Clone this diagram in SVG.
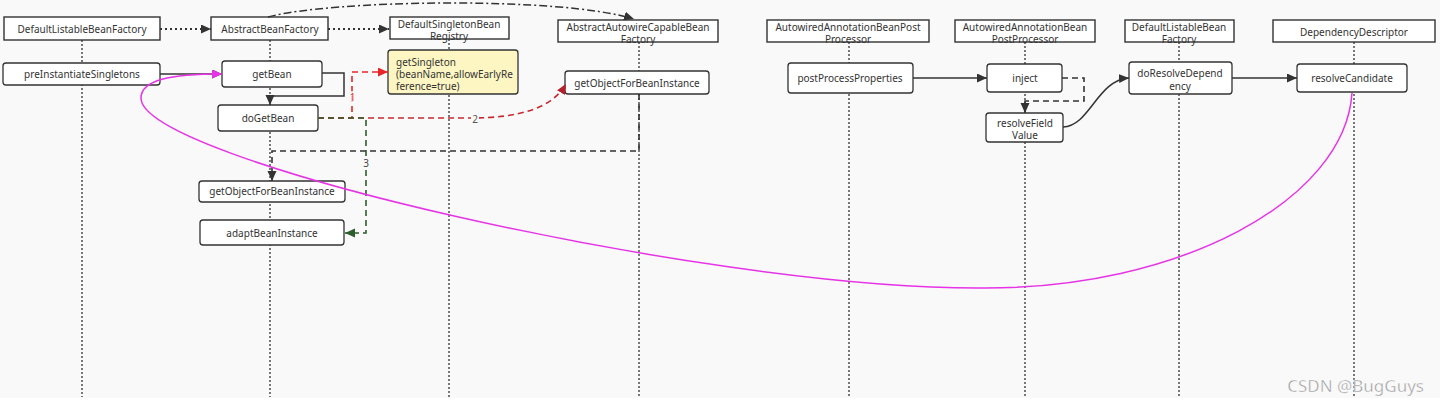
<svg xmlns="http://www.w3.org/2000/svg" width="1440" height="408" viewBox="0 0 1440 408">
<style>
.hdr{fill:#fff;stroke:#333;stroke-width:1.4}
.act{fill:#fff;stroke:#333;stroke-width:1.3}
.t{font-family:"Noto Sans","Liberation Sans",sans-serif;font-size:10px;fill:#333;text-anchor:middle}
.tl{font-family:"Noto Sans","Liberation Sans",sans-serif;font-size:10px;fill:#333}
.life{stroke:#333;stroke-width:1.3;stroke-dasharray:2 2;fill:none}
.solid{stroke:#333;stroke-width:1.5;fill:none}
.dash{stroke:#333;stroke-width:1.6;stroke-dasharray:6 4;fill:none}
.dot{stroke:#333;stroke-width:2;stroke-dasharray:2 3;fill:none}
.dashdot{stroke:#333;stroke-width:1.5;stroke-dasharray:8 3 2 3;fill:none}
.red{stroke:#e8262a;stroke-width:1.6;stroke-dasharray:6 4;fill:none}
.red2{stroke:#c62a2f;stroke-width:1.6;stroke-dasharray:6 4;fill:none}
.green{stroke:#2b5e2b;stroke-width:1.6;stroke-dasharray:6 4;fill:none}
.mag{stroke:#e633e6;stroke-width:1.5;fill:none}
</style>
<defs>
<marker id="aD" markerWidth="12" markerHeight="10" refX="10" refY="4.5" orient="auto" markerUnits="userSpaceOnUse"><path d="M0,0 L10,4.5 L0,9 z" fill="#333"/></marker>
<marker id="aR" markerWidth="12" markerHeight="10" refX="10" refY="4.5" orient="auto" markerUnits="userSpaceOnUse"><path d="M0,0 L10,4.5 L0,9 z" fill="#e8262a"/></marker>
<marker id="aR2" markerWidth="12" markerHeight="10" refX="10" refY="4.5" orient="auto" markerUnits="userSpaceOnUse"><path d="M0,0 L10,4.5 L0,9 z" fill="#b5202a"/></marker>
<marker id="aG" markerWidth="12" markerHeight="10" refX="10" refY="4.5" orient="auto" markerUnits="userSpaceOnUse"><path d="M0,0 L10,4.5 L0,9 z" fill="#2b5e2b"/></marker>
<marker id="aM" markerWidth="12" markerHeight="10" refX="10" refY="4.5" orient="auto" markerUnits="userSpaceOnUse"><path d="M0,0 L10,4.5 L0,9 z" fill="#e633e6"/></marker>
</defs>
<rect x="0" y="0" width="1440" height="408" fill="#fff"/>
<rect x="0" y="0" width="1440" height="398" fill="#f9f9f9"/>

<g id="lifelines">
<line class="life" x1="82" y1="40" x2="82" y2="397"/>
<line class="life" x1="270" y1="40" x2="270" y2="397"/>
<line class="life" x1="449" y1="39" x2="449" y2="397"/>
<line class="life" x1="639" y1="42" x2="639" y2="397"/>
<line class="life" x1="849" y1="42" x2="849" y2="397"/>
<line class="life" x1="1025" y1="42" x2="1025" y2="397"/>
<line class="life" x1="1179" y1="42" x2="1179" y2="397"/>
<line class="life" x1="1354" y1="42" x2="1354" y2="397"/>
</g>

<g id="h1"><rect class="hdr" x="4" y="17" width="156" height="23"/><text class="t" x="82" y="32.5">DefaultListableBeanFactory</text></g>
<g id="h2"><rect class="hdr" x="211" y="17" width="117" height="23"/><text class="t" x="270" y="32.5">AbstractBeanFactory</text></g>
<g id="h3"><rect class="hdr" x="390" y="17" width="119" height="22"/><text class="t" x="449" y="27.5">DefaultSingletonBean</text><text class="t" x="449" y="39.5">Registry</text></g>
<g id="h4"><rect class="hdr" x="558" y="20" width="160" height="22"/><text class="t" x="638" y="30.5">AbstractAutowireCapableBean</text><text class="t" x="638" y="42.5">Factory</text></g>
<g id="h5"><rect class="hdr" x="767" y="20" width="162" height="22"/><text class="t" x="848" y="30.5">AutowiredAnnotationBeanPost</text><text class="t" x="848" y="42.5">Processor</text></g>
<g id="h6"><rect class="hdr" x="955" y="20" width="140" height="22"/><text class="t" x="1025" y="30.5">AutowiredAnnotationBean</text><text class="t" x="1025" y="42.5">PostProcessor</text></g>
<g id="h7"><rect class="hdr" x="1125" y="20" width="109" height="22"/><text class="t" x="1179" y="30.5">DefaultListableBean</text><text class="t" x="1179" y="42.5">Factory</text></g>
<g id="h8"><rect class="hdr" x="1273" y="20" width="162" height="22"/><text class="t" x="1354" y="35.5">DependencyDescriptor</text></g>

<g id="preInstantiateSingletons"><rect class="act" x="3" y="63" width="157" height="22" rx="3"/><text class="t" x="82" y="77.5">preInstantiateSingletons</text></g>
<g id="getBean"><rect class="act" x="222" y="61" width="100" height="26" rx="3"/><text class="t" x="272" y="77.5">getBean</text></g>
<g id="doGetBean"><rect class="act" x="218" y="105" width="100" height="26" rx="3"/><text class="t" x="268" y="121.5">doGetBean</text></g>
<g id="getSingleton"><rect x="388" y="50" width="130" height="44" rx="3" fill="#fdf6c3" stroke="#333" stroke-width="1.3"/><text class="tl" x="396" y="65.5">getSingleton</text><text class="tl" x="396" y="77.5">(beanName,allowEarlyRe</text><text class="tl" x="396" y="89.5">ference=true)</text></g>
<g id="getObjectForBeanInstanceA"><rect class="act" x="565" y="71" width="144" height="23" rx="3"/><text class="t" x="637" y="87">getObjectForBeanInstance</text></g>
<g id="getObjectForBeanInstanceB"><rect class="act" x="199" y="181" width="146" height="21" rx="3"/><text class="t" x="272" y="195">getObjectForBeanInstance</text></g>
<g id="adaptBeanInstance"><rect class="act" x="200" y="220" width="144" height="25" rx="3"/><text class="t" x="272" y="236.5">adaptBeanInstance</text></g>
<g id="postProcessProperties"><rect class="act" x="788" y="63" width="125" height="30" rx="3"/><text class="t" x="850" y="82">postProcessProperties</text></g>
<g id="inject"><rect class="act" x="987" y="64" width="75" height="28" rx="3"/><text class="t" x="1025" y="82">inject</text></g>
<g id="resolveFieldValue"><rect class="act" x="986" y="113" width="77" height="29" rx="3"/><text class="t" x="1025" y="126.5">resolveField</text><text class="t" x="1025" y="138.5">Value</text></g>
<g id="doResolveDependency"><rect class="act" x="1129" y="62" width="103" height="32" rx="3"/><text class="t" x="1180" y="76.5">doResolveDepend</text><text class="t" x="1180" y="89.5">ency</text></g>
<g id="resolveCandidate"><rect class="act" x="1297" y="64" width="110" height="28" rx="3"/><text class="t" x="1352" y="82">resolveCandidate</text></g>

<g id="connectors">
<path class="dot" d="M160,29 H211" marker-end="url(#aD)"/>
<path class="dot" d="M328,29 H389" marker-end="url(#aD)"/>
<path class="dashdot" d="M268,17 C330,0 560,-4 634,19" marker-end="url(#aD)"/>
<path class="solid" d="M160,74 H222" marker-end="url(#aD)"/>
<path class="solid" d="M322,73 H344 V96 H270 V105" marker-end="url(#aD)"/>
<path class="red2" d="M318,118 H470 C520,118 552,108 566,84" marker-end="url(#aR2)"/>
<path class="red" d="M318,118 H352 V72 H388" marker-end="url(#aR)"/>
<path class="dash" d="M639,94 V151 H272 V181" marker-end="url(#aD)"/>
<path class="green" d="M318,118 H366 V233 H345" marker-end="url(#aG)"/>
<path class="solid" d="M913,78 H987" marker-end="url(#aD)"/>
<path class="dash" d="M1062,78 H1084 V101 H1025 V113" marker-end="url(#aD)"/>
<path class="solid" d="M1063,127 C1090,126 1097,80 1129,78" marker-end="url(#aD)"/>
<path class="solid" d="M1232,78 H1297" marker-end="url(#aD)"/>
<path class="mag" d="M1352,93 C1345,200 1180,290 978,288 C700,288 141,160 141,98 C141,80 170,74 222,74" marker-end="url(#aM)"/>
<rect x="349" y="91" width="7" height="12" fill="#f9f9f9" opacity="0.7"/>
<text class="t" x="352.5" y="101" style="fill:#e8262a">1</text>
<rect x="471" y="113" width="8" height="12" fill="#f9f9f9"/>
<text class="t" x="475" y="123" style="fill:#555">2</text>
<rect x="362" y="157" width="8" height="12" fill="#f9f9f9"/>
<text class="t" x="366" y="167" style="fill:#444">3</text>
</g>

<text x="1424" y="392" text-anchor="end" font-family="'Noto Sans','Liberation Sans',sans-serif" font-size="17" fill="#9a9a9a" stroke="#fff" stroke-width="0.4">CSDN @BugGuys</text>
</svg>
